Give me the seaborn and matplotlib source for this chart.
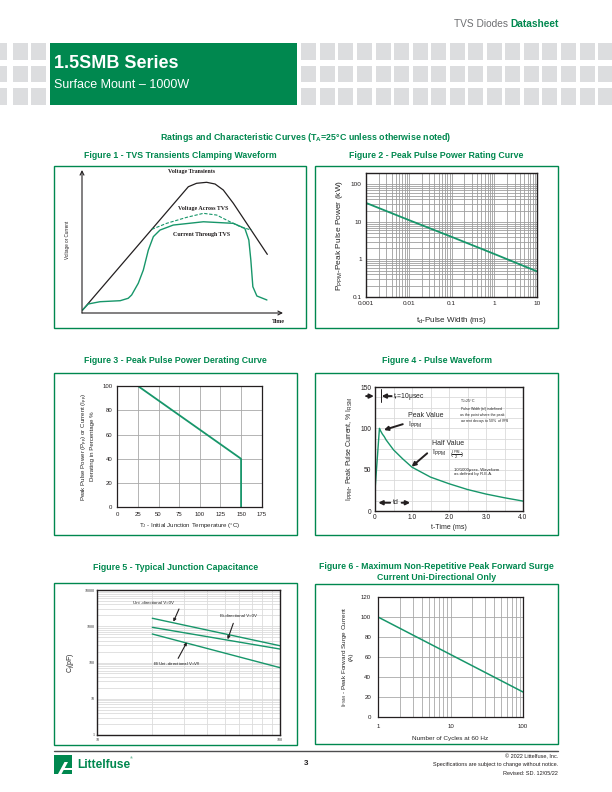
import numpy as np
import pandas as pd
import seaborn as sns
import matplotlib.pyplot as plt
from matplotlib.patches import Rectangle, Polygon
from matplotlib.ticker import FixedLocator, NullFormatter, LogLocator, FixedFormatter

# ---- data ----
# Figure 1 - TVS transients clamping waveform (sketch, arbitrary units 0..100)
f1_transient_x = [0.3, 52.9, 57, 62, 66.2, 70.3, 75.3, 92.2]
f1_transient_y = [2.1, 88.3, 90.7, 91.4, 90.2, 86, 76.7, 41]
f1_across_x = [34.7, 42.1, 52.1, 60.4, 67, 73.6, 79.4, 84.4]
f1_across_y = [58.5, 62.7, 66.9, 69.7, 68.5, 63.8, 59.9, 58]
f1_current_x = [0.3, 3.1, 9, 19, 23, 24.7, 28, 30.5, 33, 35.5, 38.8, 45.4, 60.4,
                75.3, 81, 83, 84, 85, 87, 92]
f1_current_y = [2.1, 6.3, 7.9, 8.6, 10.3, 12.6, 20.8, 30, 44, 53.4, 58, 61.5, 63.8,
                62.7, 59.2, 51, 37, 18.4, 11.9, 9.1]

# Figure 2 - peak pulse power rating curve
f2_width_ms = [0.001, 0.01, 0.1, 1, 10]
f2_power_kw = [32, 11.2, 4.0, 1.4, 0.48]

# Figure 3 - peak pulse power derating curve
f3_temp_c = [0, 25, 150, 150]
f3_derating = [100, 100, 40, 0]

# Figure 4 - pulse waveform
f4_time_ms = [0, 0.12, 0.15, 0.2, 0.25, 0.3, 0.4, 0.5, 0.75, 1.0, 1.5, 2.0, 2.5, 3.0, 3.5, 4.0]
f4_current_pct = [25, 100, 97, 93, 90, 86, 80, 74, 63, 53, 41, 33, 26, 20.5, 16, 12]

# Figure 5 - typical junction capacitance
f5_volts = [20, 100]
f5_uni_0v = [1660, 290]
f5_bi_0v = [935, 235]
f5_vr = [611, 72]

# Figure 6 - max non-repetitive peak forward surge current
f6_cycles = [1, 10, 100]
f6_current_a = [100, 62.5, 25]

GREEN = '#00884f'
LINE = '#17966a'
GRAY_TXT = '#6d6e71'
INK = '#231f20'

sns.set_theme(style="white")
plt.rcParams['font.family'] = ['Liberation Sans', 'DejaVu Sans']
plt.rcParams['mathtext.fontset'] = 'custom'
plt.rcParams['mathtext.rm'] = 'Liberation Sans'
plt.rcParams['mathtext.it'] = 'Liberation Sans:italic'
plt.rcParams['mathtext.bf'] = 'Liberation Sans:bold'

W, H = 612, 792
fig = plt.figure(figsize=(6.12, 7.92), dpi=100)


def fx(x):
    return x / W


def fy(y):
    return 1 - y / H


def add_ax(l, t, r, b):
    return fig.add_axes([fx(l), fy(b), (r - l) / W, (b - t) / H])


def rect(l, t, r, b, **kw):
    fig.add_artist(Rectangle((fx(l), fy(b)), (r - l) / W, (b - t) / H,
                             transform=fig.transFigure, **kw))


def ftext(x, y, s, **kw):
    return fig.text(fx(x), fy(y), s, **kw)


# ---- header ----
for row_top in [43, 65.5, 88]:
    for left in [-8, 12.5, 31]:
        rect(left, row_top, left + 15, row_top + 16.8, color='#dcdddf', lw=0)
    for i in range(17):
        left = 301.3 + i * 18.55
        rect(left, row_top, left + 15, row_top + 16.8, color='#dcdddf', lw=0)
rect(50, 43, 297, 104.6, color=GREEN, lw=0)
ftext(54.5, 64, "1.5SMB Series", weight='bold', size=13, color='white', va='center')
ftext(54.5, 85, "Surface Mount – 1000W", size=9, color='white', va='center')

# "TVS Diodes" in gray, "Datasheet" in bold green right after it
t_tvs = ftext(453.5, 24, "TVS Diodes", size=7.3, color=GRAY_TXT, ha='left', va='center')
ax_hdr = fig.add_axes([0, 0, 1, 1], frameon=False)
ax_hdr.set_axis_off()
ax_hdr.annotate("Datasheet", xy=(1, 0.5), xycoords=t_tvs, xytext=(2, 0),
                textcoords='offset points', weight='bold', size=7.3, color=GREEN,
                ha='left', va='center')

ftext(306, 137, r"Ratings and Characteristic Curves (T$_\mathbf{A}$=25°C unless otherwise noted)",
      weight='bold', size=6.4, color=GREEN, ha='center', va='center')

title_kw = dict(weight='bold', size=6.3, color=GREEN, ha='center', va='center')
ftext(180, 156, "Figure 1 - TVS Transients Clamping Waveform", **title_kw)
ftext(436.5, 156, "Figure 2 - Peak Pulse Power Rating Curve", **title_kw)
ftext(175.5, 360, "Figure 3 - Peak Pulse Power Derating Curve", **title_kw)
ftext(436.5, 360, "Figure 4 - Pulse Waveform", **title_kw)
ftext(175.5, 567.5, "Figure 5 - Typical Junction Capacitance", **title_kw)
ftext(436.5, 566.5, "Figure 6 - Maximum Non-Repetitive Peak Forward Surge", **title_kw)
ftext(436.5, 577.7, "Current Uni-Directional Only", **title_kw)

box_kw = dict(fill=False, edgecolor=GREEN, lw=1.0)
rect(54, 166, 306, 328, **box_kw)
rect(315, 166, 558, 328, **box_kw)
rect(54, 373, 297, 535, **box_kw)
rect(315, 373, 558, 535, **box_kw)
rect(54, 583, 297, 745, **box_kw)
rect(315, 584, 558, 744, **box_kw)

# ---- Figure 1 ----
ax1 = add_ax(82, 170, 283, 313)
ax1.set_xlim(0, 100)
ax1.set_ylim(0, 100)
ax1.axis('off')
sns.lineplot(x=f1_transient_x, y=f1_transient_y, ax=ax1, color=INK, lw=0.9,
             sort=False, estimator=None)
sns.lineplot(x=f1_across_x, y=f1_across_y, ax=ax1, color=LINE, lw=0.8,
             sort=False, estimator=None)
ax1.lines[-1].set_linestyle((0, (3, 1.5)))
sns.lineplot(x=f1_current_x, y=f1_current_y, ax=ax1, color=LINE, lw=1.0,
             sort=False, estimator=None)
arrow_kw = dict(arrowstyle='->', lw=0.8, color=INK, shrinkA=0, shrinkB=0, mutation_scale=7)
ax1.annotate('', xy=(0, 100), xytext=(0, 0), arrowprops=arrow_kw, annotation_clip=False)
ax1.annotate('', xy=(100, 0), xytext=(0, 0), arrowprops=arrow_kw, annotation_clip=False)
serif_kw = dict(family='Liberation Serif', weight='bold', size=4.3, color=INK,
                ha='center', va='center')
ax1.text(54.7, 99.3, "Voltage Transients", **serif_kw)
ax1.text(60.2, 73.4, "Voltage Across TVS", **serif_kw)
ax1.text(59.7, 55.2, "Current Through TVS", **serif_kw)
ax1.text(97.5, -5.6, "Time", **serif_kw)
ax1.text(-7, 51, "Voltage or Current", size=3.3, rotation=90, ha='center', va='center',
         color=INK)

# ---- Figure 2 ----
ax2 = add_ax(366, 173, 537, 297)
ax2.set_xscale('log')
ax2.set_yscale('log')
sns.lineplot(x=f2_width_ms, y=f2_power_kw, ax=ax2, color=LINE, lw=1.3,
             sort=False, estimator=None)
ax2.set_xlim(0.001, 10)
ax2.set_ylim(0.1, 200)
ax2.xaxis.set_major_locator(FixedLocator([0.001, 0.01, 0.1, 1, 10]))
ax2.xaxis.set_major_formatter(FixedFormatter(["0.001", "0.01", "0.1", "1", "10"]))
ax2.yaxis.set_major_locator(FixedLocator([0.1, 1, 10, 100]))
ax2.yaxis.set_major_formatter(FixedFormatter(["0.1", "1", "10", "100"]))
for axis in (ax2.xaxis, ax2.yaxis):
    axis.set_minor_locator(LogLocator(base=10, subs=np.arange(2, 10), numticks=20))
    axis.set_minor_formatter(NullFormatter())
ax2.grid(which='both', color='#9d9d9d', lw=0.6)
ax2.tick_params(which='both', length=0, labelsize=4.6, pad=3, colors=INK)
ax2.set_xlabel(r"t$_\mathrm{d}$-Pulse Width (ms)", size=5.8, labelpad=6)
ax2.set_ylabel(r"P$_\mathrm{PPM}$-Peak Pulse Power (kW)", size=6, labelpad=4)
for s in ax2.spines.values():
    s.set_color(INK)
    s.set_linewidth(1.0)

# ---- Figure 3 ----
ax3 = add_ax(117.3, 386, 261.7, 507.3)
sns.lineplot(x=f3_temp_c, y=f3_derating, ax=ax3, color=LINE, lw=1.3,
             sort=False, estimator=None)
ax3.set_xlim(0, 175)
ax3.set_ylim(0, 100)
ax3.set_xticks(np.arange(0, 176, 25))
ax3.set_yticks(np.arange(0, 101, 20))
ax3.grid(color='#a8a8a8', lw=0.6)
ax3.tick_params(length=2, width=0.5, labelsize=4.3, pad=1.5, colors=INK)
ax3.set_xlabel(r"T$_\mathrm{J}$ - Initial Junction Temperature (°C)", size=4.4, labelpad=3)
ax3.set_ylabel("Peak Pulse Power (P$_\\mathrm{pp}$) or Current (I$_\\mathrm{pp}$)\n"
               "Derating in Percentage %", size=4.4, labelpad=5, linespacing=1.1)
for s in ax3.spines.values():
    s.set_color(INK)
    s.set_linewidth(0.9)

# ---- Figure 4 ----
ax4 = add_ax(375, 387, 523, 511)
sns.lineplot(x=f4_time_ms, y=f4_current_pct, ax=ax4, color=LINE, lw=1.0,
             sort=False, estimator=None)
ax4.set_xlim(0, 4)
ax4.set_ylim(0, 150)
ax4.set_xticks([0, 1, 2, 3, 4])
ax4.set_xticklabels(["0", "1.0", "2.0", "3.0", "4.0"])
ax4.set_yticks([0, 50, 100, 150])
ax4.xaxis.set_minor_locator(FixedLocator(np.arange(0.5, 4, 1.0)))
ax4.yaxis.set_minor_locator(FixedLocator(np.arange(12.5, 150, 12.5)))
ax4.grid(which='both', color='#dadada', lw=0.6)
ax4.tick_params(which='both', length=0, labelsize=4.8, pad=2.5, colors=INK)
ax4.set_xlabel("t-Time (ms)", size=5, labelpad=2)
ax4.set_ylabel(r"I$_\mathrm{PPM}$- Peak Pulse Current, % I$_\mathrm{RSM}$", size=5, labelpad=4)
for s in ax4.spines.values():
    s.set_color(INK)
    s.set_linewidth(1.0)
hd = dict(arrowstyle='-|>', color=INK, lw=1.4, mutation_scale=6, shrinkA=0, shrinkB=0)
ax4.annotate('', xy=(-0.03, 139), xytext=(-0.24, 139), arrowprops=hd, annotation_clip=False)
ax4.annotate('', xy=(0.18, 139), xytext=(0.45, 139), arrowprops=hd, annotation_clip=False)
ax4.plot([0.15, 0.15], [131.5, 148], color=INK, lw=0.7)
ax4.text(0.48, 139, r"t$_\mathrm{r}$=10μsec", size=4.9, va='center')
ax4.text(2.3, 137.5, "T$_\\mathrm{J}$=25°C\nPulse Width (t$_\\mathrm{d}$) is defined\n"
         "as the point where the peak\ncurrent decays to 50% of I$_\\mathrm{PPM}$",
         size=2.6, va='top', linespacing=1.0)
ax4.text(0.9, 115.3, "Peak Value", size=5, va='center')
ax4.text(0.9, 104, r"I$_\mathrm{PPM}$", size=5, va='center')
ax4.annotate('', xy=(0.24, 98), xytext=(0.75, 105), arrowprops=hd)
ax4.text(1.53, 81.5, "Half Value", size=5, va='center')
ax4.text(1.53, 69.8, r"I$_\mathrm{PPM}$", size=5, va='center')
ax4.text(2.03, 68.5, r"$(\frac{\mathrm{I_{PPM}}}{2})$", size=4.2, va='center')
ax4.annotate('', xy=(0.99, 53.6), xytext=(1.41, 69.8), arrowprops=hd)
ax4.text(2.14, 47.5, "10/1000μsec. Waveform\nas defined by R.E.A.", size=3.1,
         va='center', linespacing=1.1)
ax4.annotate('', xy=(0.09, 10), xytext=(0.41, 10), arrowprops=hd)
ax4.annotate('', xy=(0.95, 10), xytext=(0.72, 10), arrowprops=hd)
ax4.text(0.565, 10, "td", size=5, ha='center', va='center')

# ---- Figure 5 ----
ax5 = add_ax(97.3, 590, 280, 735)
ax5.set_xscale('log')
ax5.set_yscale('log')
for vals in (f5_uni_0v, f5_bi_0v, f5_vr):
    sns.lineplot(x=f5_volts, y=vals, ax=ax5, color=LINE, lw=1.0, sort=False, estimator=None)
ax5.set_xlim(10, 100)
ax5.set_ylim(1, 10000)
ax5.xaxis.set_major_locator(FixedLocator([10, 100]))
ax5.xaxis.set_major_formatter(FixedFormatter(["10", "100"]))
ax5.yaxis.set_major_locator(FixedLocator([1, 10, 100, 1000, 10000]))
ax5.yaxis.set_major_formatter(FixedFormatter(["1", "10", "100", "1000", "10000"]))
for axis in (ax5.xaxis, ax5.yaxis):
    axis.set_minor_locator(LogLocator(base=10, subs=np.arange(2, 10), numticks=20))
    axis.set_minor_formatter(NullFormatter())
ax5.grid(which='both', color='#dcdcdc', lw=0.6)
ax5.tick_params(which='both', length=0, labelsize=3.0, pad=2)
for lab in ax5.get_xticklabels() + ax5.get_yticklabels():
    lab.set_family('Liberation Serif')
ax5.set_ylabel(r"C$_\mathrm{j}$(pF)", size=5, labelpad=6)
for s in ax5.spines.values():
    s.set_color(INK)
    s.set_linewidth(1.0)
thin = dict(arrowstyle='-|>', color=INK, lw=0.8, mutation_scale=4, shrinkA=0, shrinkB=0)
ax5.text(20.2, 4300, "Uni -directional V=0V", size=3.2, ha='center', va='center')
ax5.annotate('', xy=(26.1, 1337), xytext=(28, 2990), arrowprops=thin)
ax5.text(59.1, 1918, "Bi-directional V=0V", size=3.2, ha='center', va='center')
ax5.annotate('', xy=(51.7, 437), xytext=(55.5, 1205), arrowprops=thin)
ax5.text(27.2, 91, r"Bi/Uni -directional V=V$_\mathrm{R}$", size=3.2, ha='center', va='center')
ax5.annotate('', xy=(30.9, 361), xytext=(27.7, 130), arrowprops=thin)

# ---- Figure 6 ----
ax6 = add_ax(378, 597, 523, 717)
ax6.set_xscale('log')
sns.lineplot(x=f6_cycles, y=f6_current_a, ax=ax6, color=LINE, lw=1.1,
             sort=False, estimator=None)
ax6.set_xlim(1, 100)
ax6.set_ylim(0, 120)
ax6.xaxis.set_major_locator(FixedLocator([1, 10, 100]))
ax6.xaxis.set_major_formatter(FixedFormatter(["1", "10", "100"]))
ax6.xaxis.set_minor_locator(LogLocator(base=10, subs=np.arange(2, 10), numticks=20))
ax6.xaxis.set_minor_formatter(NullFormatter())
ax6.set_yticks(np.arange(0, 121, 20))
ax6.grid(which='both', color='#a8a8a8', lw=0.6)
ax6.tick_params(which='both', length=0, labelsize=4.4, pad=3, colors=INK)
ax6.tick_params(axis='both', which='major', length=2, width=0.5)
ax6.set_xlabel("Number of Cycles at 60 Hz", size=4.6, labelpad=5)
ax6.set_ylabel("I$_\\mathrm{FSM}$ - Peak Forward Surge Current\n(A)", size=4.6,
               labelpad=5, linespacing=1.1)
for s in ax6.spines.values():
    s.set_color(INK)
    s.set_linewidth(0.9)

# ---- footer ----
fig.add_artist(plt.Line2D([fx(54), fx(558)], [fy(751), fy(751)], color='#4d4d4f',
                          lw=1.0, transform=fig.transFigure))
rect(54, 755, 72, 774, color=GREEN, lw=0)
for pts in ([(58, 774), (61.5, 774), (68, 762), (64.5, 762)],
            [(63, 770), (72, 770), (72, 767.5), (64.3, 767.5)]):
    fig.add_artist(Polygon([(fx(a), fy(b)) for a, b in pts], closed=True, color='white',
                           lw=0, transform=fig.transFigure))
ftext(77.5, 765, "Littelfuse", weight='bold', size=8.6, color=GREEN, va='center')
ftext(129.5, 758.5, "®", size=2.8, color=GREEN, va='center')
ftext(306, 763.5, "3", weight='bold', size=5.8, ha='center', va='center', color=INK)
foot_kw = dict(size=4.0, ha='right', va='center', color=INK)
ftext(558, 756.5, "© 2022 Littelfuse, Inc.", **foot_kw)
ftext(558, 764.5, "Specifications are subject to change without notice.", **foot_kw)
ftext(558, 773.5, "Revised: SD. 12/05/22", **foot_kw)

fig.savefig("out.png", dpi=100)
